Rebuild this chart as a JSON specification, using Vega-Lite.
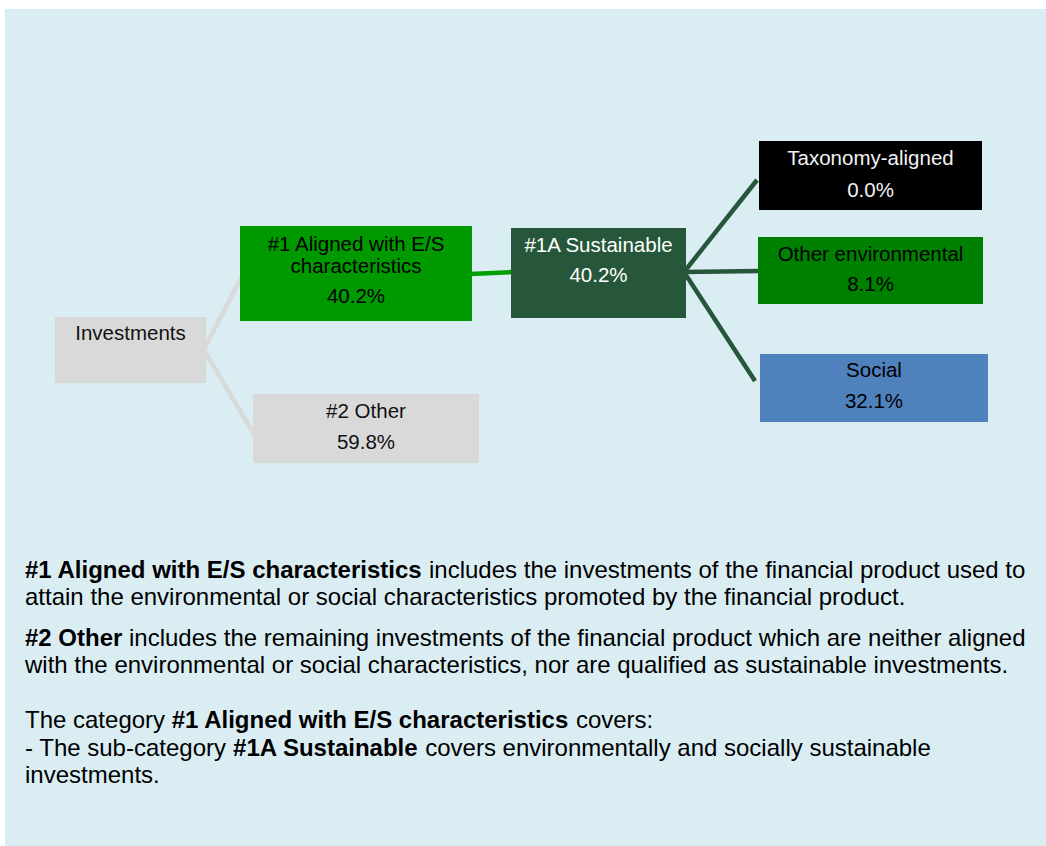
{
  "$schema": "https://vega.github.io/schema/vega-lite/v6.json",
  "width": 1046,
  "height": 846,
  "autosize": {"type": "fit", "contains": "padding"},
  "padding": 0,
  "background": "#ffffff",
  "config": {"view": {"stroke": null}, "text": {"font": "Liberation Sans"}},
  "datasets": {
    "panel": [{"x0": 5, "x1": 1046, "y0": 9, "y1": 846}],
    "nodes": [
      {"node": "Investments", "x0": 55, "x1": 206, "y0": 317, "y1": 383},
      {"node": "#1 Aligned with E/S characteristics", "x0": 240, "x1": 472, "y0": 226, "y1": 321},
      {"node": "#2 Other", "x0": 253, "x1": 479, "y0": 394, "y1": 463},
      {"node": "#1A Sustainable", "x0": 511, "x1": 686, "y0": 228, "y1": 318},
      {"node": "Taxonomy-aligned", "x0": 759, "x1": 982, "y0": 141, "y1": 210},
      {"node": "Other environmental", "x0": 758, "x1": 983, "y0": 237, "y1": 304},
      {"node": "Social", "x0": 760, "x1": 988, "y0": 354, "y1": 422}
    ],
    "links": [
      {"link": "Investments-#1", "group": "gray", "x": 204, "y": 349, "x2": 242, "y2": 276},
      {"link": "Investments-#2", "group": "gray", "x": 204, "y": 350, "x2": 255, "y2": 436},
      {"link": "#1-#1A", "group": "green", "x": 470, "y": 274, "x2": 513, "y2": 272},
      {"link": "#1A-Taxonomy", "group": "dark", "x": 684, "y": 272, "x2": 757, "y2": 180},
      {"link": "#1A-Other environmental", "group": "dark", "x": 684, "y": 272, "x2": 760, "y2": 271},
      {"link": "#1A-Social", "group": "dark", "x": 684, "y": 272, "x2": 755, "y2": 381}
    ],
    "labels": [
      {"node": "Investments", "text": "Investments", "x": 130.5, "y": 334},
      {"node": "#1 Aligned with E/S characteristics", "text": "#1 Aligned with E/S", "x": 356, "y": 245},
      {"node": "#1 Aligned with E/S characteristics", "text": "characteristics", "x": 356, "y": 267},
      {"node": "#1 Aligned with E/S characteristics", "text": "40.2%", "x": 356, "y": 297},
      {"node": "#2 Other", "text": "#2 Other", "x": 366, "y": 412},
      {"node": "#2 Other", "text": "59.8%", "x": 366, "y": 443},
      {"node": "#1A Sustainable", "text": "#1A Sustainable", "x": 598.5, "y": 246},
      {"node": "#1A Sustainable", "text": "40.2%", "x": 598.5, "y": 276},
      {"node": "Taxonomy-aligned", "text": "Taxonomy-aligned", "x": 870.5, "y": 159},
      {"node": "Taxonomy-aligned", "text": "0.0%", "x": 870.5, "y": 191},
      {"node": "Other environmental", "text": "Other environmental", "x": 870.5, "y": 255},
      {"node": "Other environmental", "text": "8.1%", "x": 870.5, "y": 285},
      {"node": "Social", "text": "Social", "x": 874, "y": 371},
      {"node": "Social", "text": "32.1%", "x": 874, "y": 402}
    ],
    "notes": [
      {"kind": "term", "text": "#1 Aligned with E/S characteristics", "x": 25, "y": 571},
      {"kind": "plain", "text": "includes the investments of the financial product used to", "x": 429, "y": 571},
      {"kind": "plain", "text": "attain the environmental or social characteristics promoted by the financial product.", "x": 25, "y": 598},
      {"kind": "term", "text": "#2 Other", "x": 25, "y": 639},
      {"kind": "plain", "text": "includes the remaining investments of the financial product which are neither aligned", "x": 129, "y": 639},
      {"kind": "plain", "text": "with the environmental or social characteristics, nor are qualified as sustainable investments.", "x": 25, "y": 666},
      {"kind": "plain", "text": "The category", "x": 25, "y": 721},
      {"kind": "term", "text": "#1 Aligned with E/S characteristics", "x": 171.7, "y": 721},
      {"kind": "plain", "text": "covers:", "x": 575.9, "y": 721},
      {"kind": "plain", "text": "- The sub-category", "x": 25, "y": 749},
      {"kind": "term", "text": "#1A Sustainable", "x": 233.1, "y": 749},
      {"kind": "plain", "text": "covers environmentally and socially sustainable", "x": 425.2, "y": 749},
      {"kind": "plain", "text": "investments.", "x": 25, "y": 776}
    ]
  },
  "layer": [
    {
      "data": {"name": "panel"},
      "mark": {"type": "rect", "fill": "#daedf3"},
      "encoding": {
        "x": {"field": "x0", "type": "quantitative", "scale": {"domain": [0, 1046], "nice": false, "zero": false}, "axis": null},
        "x2": {"field": "x1"},
        "y": {"field": "y0", "type": "quantitative", "scale": {"domain": [0, 846], "nice": false, "zero": false, "reverse": true}, "axis": null},
        "y2": {"field": "y1"}
      }
    },
    {
      "data": {"name": "links"},
      "mark": {"type": "rule", "strokeWidth": 4.5},
      "encoding": {
        "x": {"field": "x", "type": "quantitative", "axis": null},
        "y": {"field": "y", "type": "quantitative", "axis": null},
        "x2": {"field": "x2"},
        "y2": {"field": "y2"},
        "stroke": {"field": "group", "type": "nominal", "legend": null,
          "scale": {"domain": ["gray", "green", "dark"], "range": ["#d9d9d9", "#00a000", "#26573a"]}}
      }
    },
    {
      "data": {"name": "nodes"},
      "mark": {"type": "rect"},
      "encoding": {
        "x": {"field": "x0", "type": "quantitative", "axis": null},
        "x2": {"field": "x1"},
        "y": {"field": "y0", "type": "quantitative", "axis": null},
        "y2": {"field": "y1"},
        "fill": {"field": "node", "type": "nominal", "legend": null,
          "scale": {
            "domain": ["Investments", "#1 Aligned with E/S characteristics", "#2 Other", "#1A Sustainable", "Taxonomy-aligned", "Other environmental", "Social"],
            "range": ["#d9d9d9", "#009900", "#d9d9d9", "#26573a", "#000000", "#008000", "#4f81bd"]
          }}
      }
    },
    {
      "data": {"name": "labels"},
      "mark": {"type": "text", "fontSize": 20.5, "align": "center", "baseline": "middle"},
      "encoding": {
        "x": {"field": "x", "type": "quantitative", "axis": null},
        "y": {"field": "y", "type": "quantitative", "axis": null},
        "text": {"field": "text", "type": "nominal"},
        "color": {"field": "node", "type": "nominal", "legend": null,
          "scale": {
            "domain": ["Investments", "#1 Aligned with E/S characteristics", "#2 Other", "#1A Sustainable", "Taxonomy-aligned", "Other environmental", "Social"],
            "range": ["#111111", "#000000", "#111111", "#ffffff", "#f2f2f2", "#000000", "#000000"]
          }}
      }
    },
    {
      "data": {"name": "notes"},
      "transform": [{"filter": "datum.kind === 'plain'"}],
      "mark": {"type": "text", "fontSize": 24, "align": "left", "baseline": "middle", "color": "#000000"},
      "encoding": {
        "x": {"field": "x", "type": "quantitative", "axis": null},
        "y": {"field": "y", "type": "quantitative", "axis": null},
        "text": {"field": "text", "type": "nominal"}
      }
    },
    {
      "data": {"name": "notes"},
      "transform": [{"filter": "datum.kind === 'term'"}],
      "mark": {"type": "text", "fontSize": 24, "fontWeight": "bold", "align": "left", "baseline": "middle", "color": "#000000"},
      "encoding": {
        "x": {"field": "x", "type": "quantitative", "axis": null},
        "y": {"field": "y", "type": "quantitative", "axis": null},
        "text": {"field": "text", "type": "nominal"}
      }
    }
  ]
}
